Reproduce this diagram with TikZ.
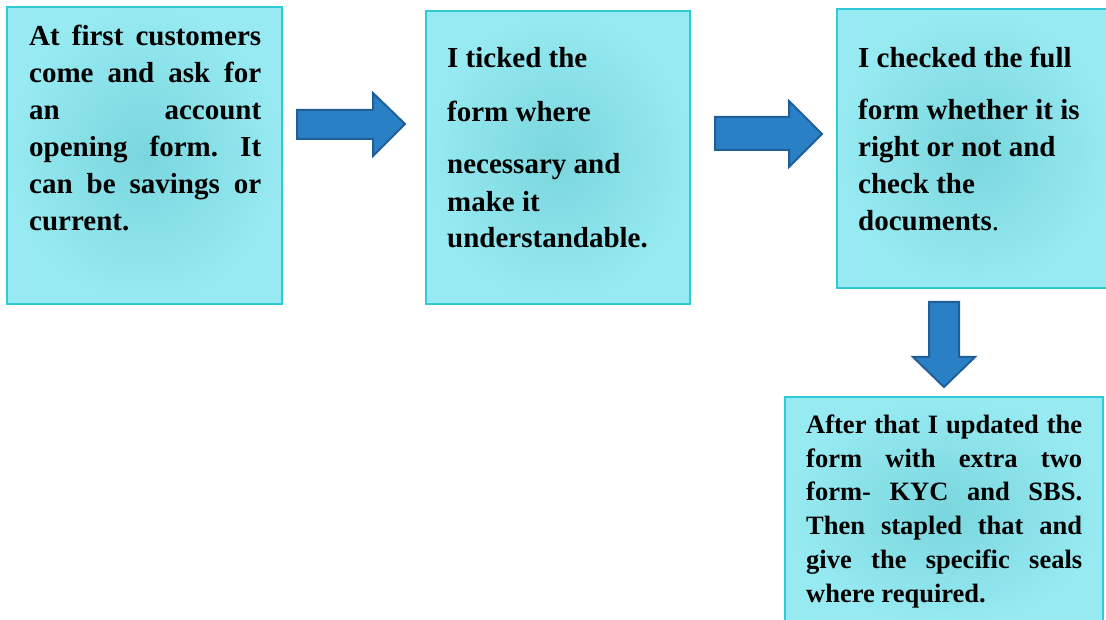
\documentclass[tikz,border=0pt]{standalone}
\usepackage{fontspec}
\setmainfont{Liberation Serif}
\frenchspacing
\definecolor{boxin}{HTML}{7AD6DD}
\definecolor{boxout}{HTML}{97EAF2}
\definecolor{boxline}{HTML}{2FCAD6}
\definecolor{arrfill}{HTML}{2A80C4}
\definecolor{arrline}{HTML}{205E97}
\begin{document}
\begin{tikzpicture}[x=1pt,y=-1pt,
  stepbox/.style={rectangle, draw=boxline, line width=2pt, inner color=boxin, outer color=boxout, inner sep=0},
  blockarrow/.style={fill=arrfill, draw=arrline, line width=2pt, line join=miter},
  ln/.style={anchor=base west, inner sep=0, font=\bfseries\fontsize{29}{37}\selectfont},
  lns/.style={anchor=base west, inner sep=0, font=\bfseries\fontsize{26.5}{34}\selectfont}]
\useasboundingbox (0,0) rectangle (1106,620);

% boxes
\node[stepbox, minimum width=275pt, minimum height=297pt] (b1) at (144.5,155.5) {};
\node[stepbox, minimum width=264pt, minimum height=293pt] (b2) at (558,157.5) {};
\node[stepbox, minimum width=275pt, minimum height=279pt] (b3) at (974.5,148.5) {};
\node[stepbox, minimum width=318pt, minimum height=229pt] (b4) at (944,511.5) {};

% block arrows
\draw[blockarrow] (297,110) -- (373,110) -- (373,93) -- (405,124) -- (373,156) -- (373,139) -- (297,139) -- cycle;
\draw[blockarrow] (715,117) -- (789,117) -- (789,101) -- (822,134) -- (789,167) -- (789,150) -- (715,150) -- cycle;
\draw[blockarrow] (929,302) -- (959,302) -- (959,357) -- (975,357) -- (944,387) -- (913,357) -- (929,357) -- cycle;

% box 1 text
\node[ln] (t1a) at (29,46)  {\makebox[232pt][s]{At first customers}};
\node[ln] (t1b) at (29,83)  {\makebox[232pt][s]{come and ask for}};
\node[ln] (t1c) at (29,120) {\makebox[232pt][s]{an account}};
\node[ln] (t1d) at (29,157) {\makebox[232pt][s]{opening form. It}};
\node[ln] (t1e) at (29,194) {\makebox[232pt][s]{can be savings or}};
\node[ln] (t1f) at (29,231) {current.};

% box 2 text
\node[ln] (t2a) at (447,68)  {I ticked the};
\node[ln] (t2b) at (447,122) {form where};
\node[ln] (t2c) at (447,174) {necessary and};
\node[ln] (t2d) at (447,212) {make it};
\node[ln] (t2e) at (447,248) {understandable.};

% box 3 text
\node[ln] (t3a) at (858,68)  {I checked the full};
\node[ln] (t3b) at (858,120) {form whether it is};
\node[ln] (t3c) at (858,157) {right or not and};
\node[ln] (t3d) at (858,194) {check the};
\node[ln] (t3e) at (858,231) {documents\mdseries.};

% box 4 text
\node[lns] (t4a) at (806,433) {\makebox[276pt][s]{After that I updated the}};
\node[lns] (t4b) at (806,467) {\makebox[276pt][s]{form with extra two}};
\node[lns] (t4c) at (806,500) {\makebox[276pt][s]{form- KYC and SBS.}};
\node[lns] (t4d) at (806,534) {\makebox[276pt][s]{Then stapled that and}};
\node[lns] (t4e) at (806,568) {\makebox[276pt][s]{give the specific seals}};
\node[lns] (t4f) at (806,602) {where required.};
\end{tikzpicture}
\end{document}
